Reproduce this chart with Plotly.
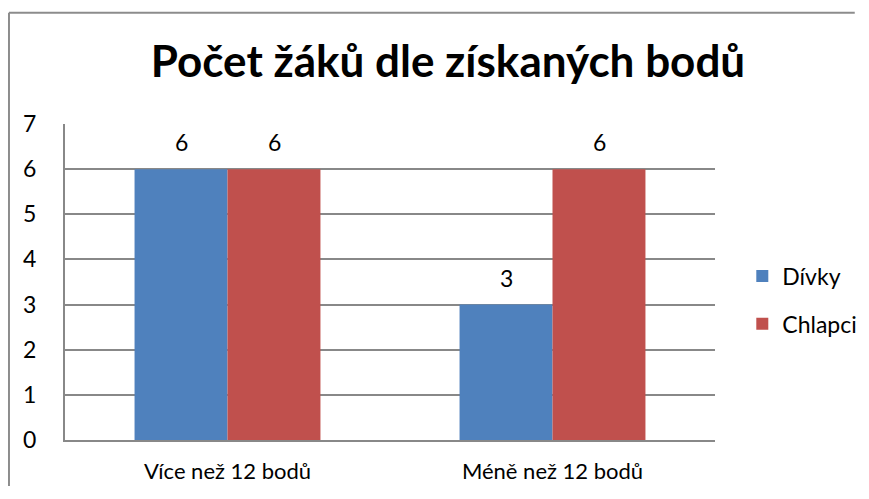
import plotly.graph_objects as go

categories = ["Více než 12 bodů", "Méně než 12 bodů"]
divky = [6, 3]
chlapci = [6, 6]
series_names = ["Dívky", "Chlapci"]
title_text = "Počet žáků dle získaných bodů"
y_ticks = [0, 1, 2, 3, 4, 5, 6, 7]

FONT = "Lato"
GRID = "#888888"

fig = go.Figure()
fig.add_trace(go.Bar(name=series_names[0], x=categories, y=divky,
                     marker=dict(color="#4F81BD", line=dict(width=0)),
                     legendgroup="a"))
fig.add_trace(go.Bar(name=series_names[1], x=categories, y=chlapci,
                     marker=dict(color="#C0504D", line=dict(width=0)),
                     legendgroup="b"))

annotations = []
for vals, shift in ((divky, -46.5), (chlapci, 46.5)):
    for c, v in zip(categories, vals):
        annotations.append(dict(x=c, y=v, xref="x", yref="y", text=str(v),
                                showarrow=False, xshift=shift, yshift=11,
                                yanchor="bottom",
                                font=dict(family=FONT, size=23, color="#000")))

shapes = [
    dict(type="line", xref="paper", yref="paper", x0=-0.0862, x1=1.215, y0=1.352, y1=1.352,
         line=dict(color="#8c8c8c", width=2)),
    dict(type="line", xref="paper", yref="paper", x0=-0.0862, x1=-0.0862, y0=1.352, y1=-0.3,
         line=dict(color="#8c8c8c", width=2)),
]

fig.update_layout(
    width=850, height=478,
    margin=dict(l=57, r=143, t=115.5, b=46, autoexpand=False),
    paper_bgcolor="white", plot_bgcolor="white",
    barmode="group", bargap=0.428, bargroupgap=0,
    title=dict(text="<b>" + title_text + "</b>", x=440 / 850, xanchor="center",
               y=1 - 54 / 478, yanchor="middle",
               font=dict(family=FONT, size=44, color="#000")),
    font=dict(family=FONT, size=23, color="#000"),
    xaxis=dict(showline=True, linecolor=GRID, linewidth=2, ticks="",
               tickfont=dict(family=FONT, size=22), ticklabelstandoff=11),
    yaxis=dict(range=[0, 7], tickvals=y_ticks, showgrid=True, gridcolor=GRID, gridwidth=2,
               showline=True, linecolor=GRID, linewidth=2, ticks="", zeroline=False,
               tickfont=dict(family=FONT, size=23), ticklabelstandoff=22),
    legend=dict(x=1.042, xanchor="left", y=0.443, yanchor="middle",
                traceorder="grouped", tracegroupgap=15,
                font=dict(family=FONT, size=23, color="#000")),
    annotations=annotations,
    shapes=shapes,
)

fig.write_html("out.html")
